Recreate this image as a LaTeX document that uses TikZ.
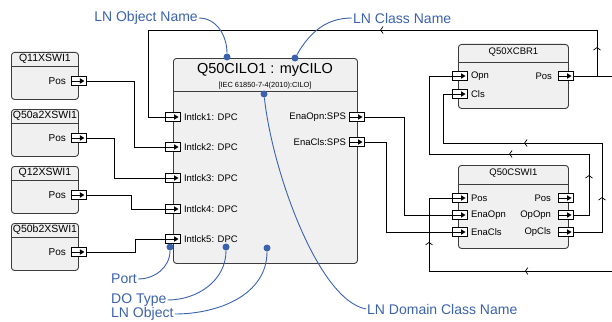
\documentclass[tikz,border=0pt]{standalone}
\usepackage{fontspec}
\setmainfont{Liberation Sans}
\usepackage{xcolor}
\usepackage{tikz}
\usetikzlibrary{arrows.meta,positioning,decorations.markings}
\definecolor{boxline}{HTML}{3C3C3C}
\definecolor{boxfill}{HTML}{F0F0F0}
\definecolor{notecol}{HTML}{3B62AC}
\tikzset{
  lnbox/.style={draw=boxline,fill=boxfill,rounded corners=3pt,line width=0.9pt,
    anchor=north west,inner sep=0pt},
  portbox/.style={draw=black,fill=white,minimum width=15pt,minimum height=8.5pt,
    inner sep=0pt,line width=0.7pt,
    path picture={
      \draw[black,line width=0.7pt] (path picture bounding box.west) -- ([xshift=-4pt]path picture bounding box.east);
      \fill[black] ([xshift=-2pt]path picture bounding box.east) -- ++(-4.5pt,2.8pt) -- ++(0,-5.6pt) -- cycle;}},
  portlabel/.style={inner sep=0pt,font=\fontsize{9.5}{11}\selectfont},
  wire/.style={draw=black,line width=0.7pt},
  flowmarks/.style 2 args={postaction={decorate,decoration={markings,
    mark=at position #1 with {\arrow{Straight Barb[length=2.5pt,width=7pt,line width=0.7pt]}},
    mark=at position #2 with {\arrow{Straight Barb[length=2.5pt,width=7pt,line width=0.7pt]}}}}},
  note/.style={text=notecol,inner sep=1pt,font=\fontsize{14}{16}\selectfont},
  noteline/.style={draw=notecol,line width=0.9pt},
  notedot/.style={circle,fill=notecol,inner sep=0pt,minimum size=7pt}
}

\begin{document}
\begin{tikzpicture}[x=1pt,y=-1pt]
\useasboundingbox (0,0) rectangle (612,321);
\clip (0,0) rectangle (612,321);

% interlocking node
\node[lnbox,minimum width=184pt,minimum height=205pt] (cilo) at (173,58) {};
\draw[boxline,line width=0.9pt] ([yshift=-33pt]cilo.north west) -- ([yshift=-33pt]cilo.north east);
\node[font=\fontsize{14.5}{16}\selectfont] (cilotitle) at (265,70) {Q50CILO1 : myCILO};
\node[font=\fontsize{7.4}{8}\selectfont] (ciloclass) at (265,86) {[IEC 61850-7-4(2010):CILO]};
\foreach \i/\y in {1/117,2/147,3/178,4/209,5/239}{
  \node[portbox] (ilk\i) at (173,\y) {};
  \node[portlabel,right=3pt of ilk\i] {Intlck\i: DPC};
}
\node[portbox] (enaopn) at (357,117) {};
\node[portlabel,left=3pt of enaopn] {EnaOpn:SPS};
\node[portbox] (enacls) at (357,142) {};
\node[portlabel,left=3pt of enacls] {EnaCls:SPS};

% switches on the left
\foreach \n/\t/\top in {q11/Q11XSWI1/52,q50a/Q50a2XSWI1/109,q12/Q12XSWI1/166,q50b/Q50b2XSWI1/223}{
  \node[lnbox,minimum width=67pt,minimum height=47pt] (\n) at (11,\top) {};
  \draw[boxline,line width=0.9pt] ([yshift=-14pt]\n.north west) -- ([yshift=-14pt]\n.north east);
  \node[font=\fontsize{10.5}{12}\selectfont] at ([yshift=-7pt]\n.north) {\t};
  \node[portbox] (\n-pos) at ([yshift=-29pt]\n.north east) {};
  \node[portlabel,font=\fontsize{10}{12}\selectfont,left=5pt of \n-pos] {Pos};
}

% breaker
\node[lnbox,minimum width=110pt,minimum height=64pt] (xcbr) at (458,44) {};
\draw[boxline,line width=0.9pt] ([yshift=-18pt]xcbr.north west) -- ([yshift=-18pt]xcbr.north east);
\node[portlabel] at ([yshift=-8pt]xcbr.north) {Q50XCBR1};
\node[portbox] (xcbropn) at (460,76) {};
\node[portlabel,right=3pt of xcbropn] {Opn};
\node[portbox] (xcbrcls) at (460,94) {};
\node[portlabel,right=3pt of xcbrcls] {Cls};
\node[portbox] (xcbrpos) at (566,76) {};
\node[portlabel,left=6pt of xcbrpos] {Pos};

% controller
\node[lnbox,minimum width=110pt,minimum height=83pt] (cswi) at (458,165) {};
\draw[boxline,line width=0.9pt] ([yshift=-19pt]cswi.north west) -- ([yshift=-19pt]cswi.north east);
\node[portlabel] at ([yshift=-8pt]cswi.north) {Q50CSWI1};
\node[portbox] (cswipos) at (460,198) {};
\node[portlabel,right=3pt of cswipos] {Pos};
\node[portbox] (cswienaopn) at (460,215) {};
\node[portlabel,right=3pt of cswienaopn] {EnaOpn};
\node[portbox] (cswienacls) at (460,232) {};
\node[portlabel,right=3pt of cswienacls] {EnaCls};
\node[portbox] (cswiposout) at (566,198) {};
\node[portlabel,left=7pt of cswiposout] {Pos};
\node[portbox] (opopn) at (566,215) {};
\node[portlabel,left=7pt of opopn] {OpOpn};
\node[portbox] (opcls) at (566,232) {};
\node[portlabel,left=7pt of opcls] {OpCls};

% wiring
\coordinate (edgeA) at (612,76);
\coordinate (edgeB) at (612,271);
\draw[wire] (q11-pos.east) -- ++(48,0) |- (ilk2.west);
\draw[wire] (q50a-pos.east) -- ++(28,0) |- (ilk3.west);
\draw[wire] (q12-pos.east) -- ++(45,0) |- (ilk4.west);
\draw[wire] (q50b-pos.east) -- ++(49,0) |- (ilk5.west);
\draw[wire] (enaopn.east) -- ++(39,0) |- (cswienaopn.west);
\draw[wire] (enacls.east) -- ++(21,0) |- (cswienacls.west);
\draw[wire] (xcbrpos.east) -- (edgeA);
\draw[wire,flowmarks={52pt}{286pt}] (xcbrpos.east) -| (597,30) -| (148,117) -- (ilk1.west);
\draw[wire,flowmarks={55pt}{156pt}] (opopn.east) -| (589,154) -| (429,76) -- (xcbropn.west);
\draw[wire,flowmarks={63pt}{195pt}] (opcls.east) -| (602,143) -| (443,94) -- (xcbrcls.west);
\draw[wire,flowmarks={87pt}{212pt}] (edgeB) -| (429,198) -- (cswipos.west);

% annotations
\node[note,anchor=east] (objname) at (199,18) {LN Object Name};
\node[notedot] (objdot) at (227,57) {};
\draw[noteline] (objname.east) to[out=0,in=90] (objdot);
\node[note,anchor=west] (clsname) at (352,18) {LN Class Name};
\node[notedot] (clsdot) at (295,58) {};
\draw[noteline] (clsname.west) to[out=180,in=60] (clsdot);
\node[note,anchor=west] (domname) at (366,309) {LN Domain Class Name};
\node[notedot] (domdot) at (264,94) {};
\draw[noteline] (domdot) .. controls (272,170) and (318,300) .. (domname.west);
\node[note,anchor=west] (portname) at (110,279) {Port};
\node[notedot] (portdot) at (170,247) {};
\draw[noteline] (portname.east) to[out=0,in=-90] (portdot);
\node[note,anchor=west] (dotype) at (110,300) {DO Type};
\node[notedot] (typedot) at (226,247) {};
\draw[noteline] (dotype.east) to[out=0,in=-90] (typedot);
\node[note,anchor=west] (lnobj) at (110,314) {LN Object};
\node[notedot] (lnobjdot) at (267,248) {};
\draw[noteline] (lnobj.east) to[out=0,in=-90] (lnobjdot);
\end{tikzpicture}
\end{document}
